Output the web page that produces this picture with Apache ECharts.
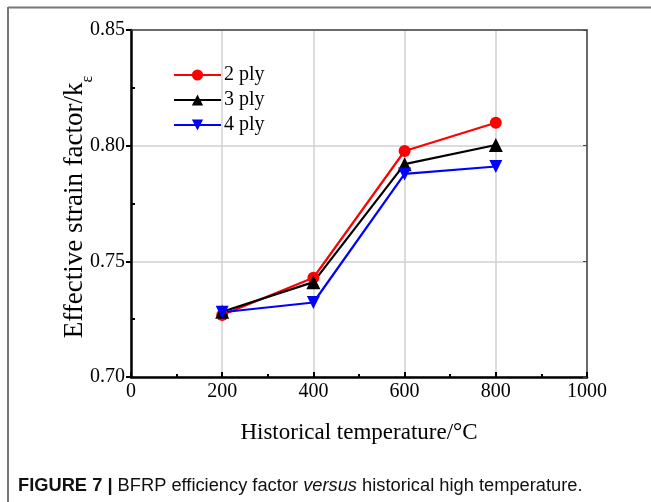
<!DOCTYPE html>
<html><head><meta charset="utf-8">
<script src="https://cdn.jsdelivr.net/npm/echarts@6/dist/echarts.min.js"></script>
<style>html,body{margin:0;padding:0;background:#fff}#c{width:651px;height:502px}</style>
</head><body><div id="c"></div>
<script>
var temps = [200, 400, 600, 800];
var ply2 = [0.7268, 0.7429, 0.7977, 0.8099];
var ply3 = [0.7282, 0.7410, 0.7920, 0.8003];
var ply4 = [0.7280, 0.7322, 0.7878, 0.7910];
var seriesNames = ['2 ply', '3 ply', '4 ply'];
var xTicks = [0, 200, 400, 600, 800, 1000];
var yTicks = [0.70, 0.75, 0.80, 0.85];

function pairs(v){ return temps.map(function(t,i){ return [t, v[i]]; }); }
var serif = 'Liberation Serif';
var chart = echarts.init(document.getElementById('c'));
chart.setOption({
  animation: false,
  grid: {left: 131, right: 64, top: 30, bottom: 125},
  legend: {
    orient: 'vertical', left: 173, top: 65, padding: 0, itemWidth: 47, itemHeight: 14, itemGap: 5,
    textStyle: {fontFamily: serif, fontSize: 20, color: '#000', padding: [0,0,0,-2]},
    data: seriesNames
  },
  xAxis: [{
    type: 'value', min: xTicks[0], max: xTicks[xTicks.length-1], interval: 200,
    name: 'Historical temperature/°C', nameLocation: 'middle', nameGap: 44,
    nameTextStyle: {fontFamily: serif, fontSize: 23, color: '#000'},
    axisLine: {show: true, lineStyle: {color: '#000', width: 2.5}},
    axisTick: {show: true, inside: true, length: 5, lineStyle: {color: '#000', width: 2}},
    minorTick: {show: true, splitNumber: 2, length: 3, lineStyle: {color: '#000', width: 2}},
    axisLabel: {fontFamily: serif, fontSize: 20, color: '#000', margin: 5,
      formatter: function(v){ return String(v); }},
    splitLine: {show: true, lineStyle: {color: '#d0d0d0', width: 1.5}}
  }, {
    type: 'value', position: 'top', min: 0, max: 1000, interval: 200,
    axisLine: {show: true, lineStyle: {color: '#444', width: 1.5}},
    axisTick: {show: false}, axisLabel: {show: false}, splitLine: {show: false}
  }],
  yAxis: [{
    type: 'value', min: yTicks[0], max: yTicks[yTicks.length-1], interval: 0.05,
    axisLine: {show: true, lineStyle: {color: '#000', width: 2.5}},
    axisTick: {show: true, inside: false, length: 5, lineStyle: {color: '#000', width: 2}},
    axisLabel: {fontFamily: serif, fontSize: 20, color: '#000', margin: 6,
      formatter: function(v){ return v.toFixed(2); }},
    splitLine: {show: true, lineStyle: {color: '#d0d0d0', width: 1.5}}
  }, {
    type: 'value', position: 'left', min: 0.70, max: 0.85, interval: 0.05,
    axisLine: {show: false},
    axisTick: {show: false, inside: true},
    minorTick: {show: true, splitNumber: 2, length: 4, lineStyle: {color: '#000', width: 2}},
    axisLabel: {show: false}, splitLine: {show: false}
  }, {
    type: 'value', position: 'right', min: 0.70, max: 0.85, interval: 0.05,
    axisLine: {show: true, lineStyle: {color: '#444', width: 1.5}},
    axisTick: {show: true, inside: true, length: 4, lineStyle: {color: '#444', width: 1}},
    axisLabel: {show: false}, splitLine: {show: false}
  }],
  series: [
    {name: seriesNames[0], type: 'line', data: pairs(ply2), symbol: 'circle', symbolSize: 12,
     lineStyle: {color: '#ff0000', width: 2.2}, itemStyle: {color: '#ff0000'}},
    {name: seriesNames[1], type: 'line', data: pairs(ply3), symbol: 'triangle', symbolSize: 14,
     lineStyle: {color: '#000', width: 2.2}, itemStyle: {color: '#000'}},
    {name: seriesNames[2], type: 'line', data: pairs(ply4), symbol: 'triangle', symbolRotate: 180, symbolSize: 13,
     lineStyle: {color: '#0000ff', width: 2.2}, itemStyle: {color: '#0000ff'}}
  ],
  graphic: [
    {type: 'line', shape: {x1: 8, y1: 7.5, x2: 651, y2: 7.5}, style: {stroke: '#777', lineWidth: 2}},
    {type: 'line', shape: {x1: 8, y1: 7, x2: 8, y2: 502}, style: {stroke: '#777', lineWidth: 2}},
    {type: 'text', x: 75, y: 207, rotation: Math.PI / 2, style: {
      text: '{a|Effective strain factor/k}{b|ε}', align: 'center', verticalAlign: 'middle',
      rich: {a: {fontFamily: serif, fontSize: 27, fill: '#000'},
             b: {fontFamily: serif, fontSize: 16, fill: '#000', verticalAlign: 'bottom', padding: [0,0,-7,0]}}}},
    {type: 'text', left: 18, top: 477, style: {
      text: '{b|FIGURE 7 | }{n|BFRP efficiency factor }{i|versus}{n| historical high temperature.}',
      rich: {
        b: {fontFamily: 'Liberation Sans', fontWeight: 'bold', fontSize: 18.3, fill: '#111'},
        n: {fontFamily: 'Liberation Sans', fontSize: 18.3, fill: '#111'},
        i: {fontFamily: 'Liberation Sans', fontStyle: 'italic', fontSize: 18.3, fill: '#111'}
      }}}
  ]
});
</script></body></html>
